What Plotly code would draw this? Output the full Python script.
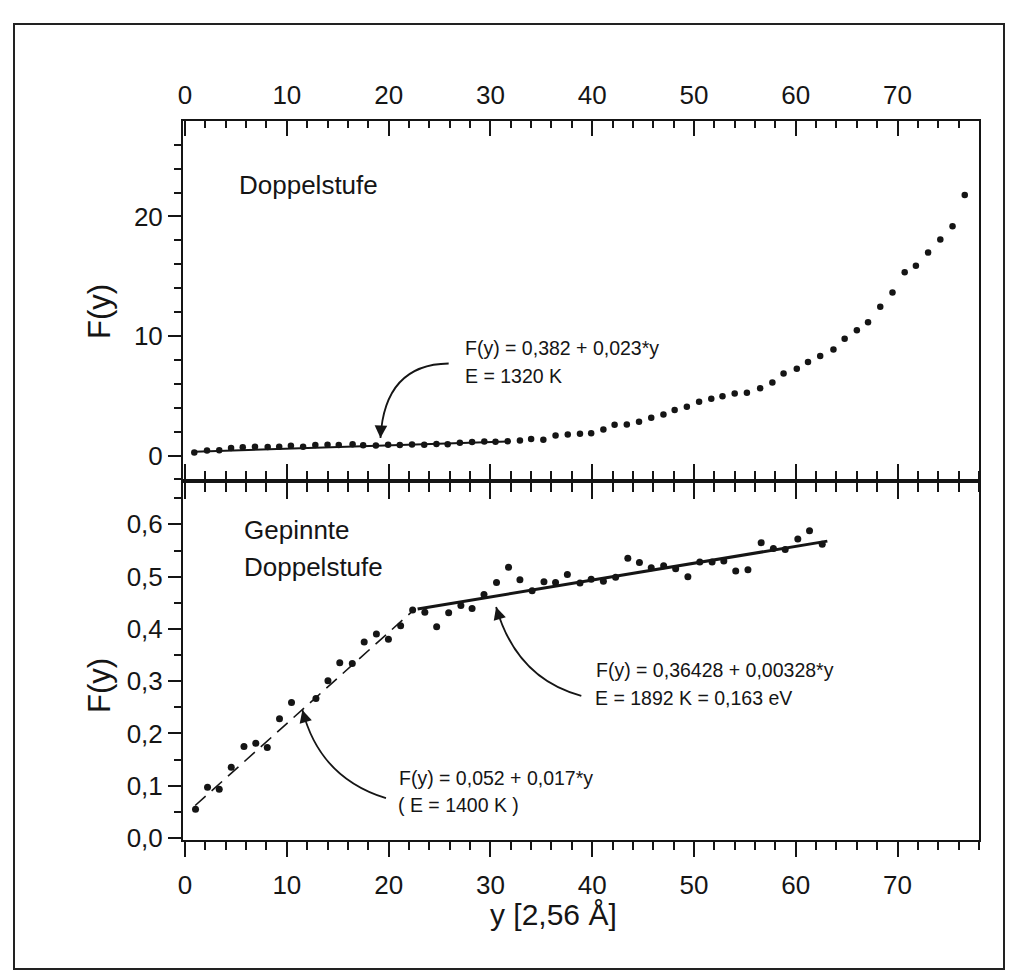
import plotly.graph_objects as go

# ---------------- data ----------------
# upper panel "Doppelstufe"
top_y = [0.91, 2.16, 3.36, 4.52, 5.67, 6.87, 8.12, 9.25, 10.4, 11.6,
         12.8, 14.0, 15.1, 16.46, 17.5, 18.75, 19.95, 21.1, 22.3, 23.5,
         24.7, 25.8, 27.0, 28.2, 29.4, 30.5, 31.7, 32.9, 34.0, 35.2, 36.4,
         37.6, 38.8, 39.9, 41.1, 42.2, 43.4, 44.6, 45.8, 47.0, 48.1,
         49.3, 50.5, 51.7, 52.8, 54.0, 55.2, 56.5, 57.7, 58.8, 60.1,
         61.2, 62.4, 63.7, 64.8, 66.0, 67.1, 68.3, 69.5, 70.7, 71.8,
         73.0, 74.2, 75.4, 76.6]
top_F = [0.25, 0.42, 0.45, 0.63, 0.70, 0.73, 0.71, 0.73, 0.82, 0.74,
         0.87, 0.91, 0.89, 0.95, 0.85, 0.84, 0.90, 0.89, 0.92, 0.90,
         0.96, 0.95, 1.07, 1.14, 1.18, 1.16, 1.20, 1.26, 1.39, 1.31, 1.68,
         1.75, 1.82, 1.86, 2.18, 2.58, 2.59, 2.82, 3.16, 3.43, 3.80,
         4.09, 4.49, 4.74, 4.95, 5.19, 5.25, 5.63, 6.11, 6.87, 7.27,
         7.82, 8.33, 8.87, 9.77, 10.48, 11.16, 12.45, 13.63, 15.34, 15.88,
         16.98, 18.08, 19.18, 21.8]
fit_top_y = [0.9, 31.7]
fit_top_F = [0.32, 1.17]

# lower panel "Gepinnte Doppelstufe"
bot_y = [1.03, 2.21, 3.36, 4.54, 5.79, 6.95, 8.08, 9.28, 10.46, 12.86,
         14.04, 15.2, 16.43, 17.6, 18.8, 19.98, 21.18, 22.36, 23.56, 24.72,
         25.9, 27.1, 28.2, 29.37, 30.6, 31.78, 32.9, 34.1, 35.26, 36.4,
         37.56, 38.8, 39.9, 41.1, 42.3, 43.5, 44.64, 45.8, 47.02, 48.2,
         49.4, 50.57, 51.78, 52.93, 54.1, 55.3, 56.6, 57.8, 58.96, 60.2,
         61.35, 62.6]
bot_F = [0.055, 0.097, 0.093, 0.135, 0.175, 0.181, 0.173, 0.228, 0.259, 0.267,
         0.301, 0.335, 0.334, 0.375, 0.39, 0.38, 0.406, 0.436, 0.432, 0.404,
         0.431, 0.445, 0.439, 0.466, 0.489, 0.518, 0.494, 0.473, 0.49, 0.489,
         0.504, 0.488, 0.495, 0.491, 0.499, 0.535, 0.527, 0.517, 0.521, 0.515,
         0.5, 0.528, 0.528, 0.53, 0.511, 0.513, 0.565, 0.554, 0.552, 0.572,
         0.588, 0.562]
fit_dash_y = [1.0, 22.4]
fit_dash_F = [0.062, 0.435]
fit_solid_y = [22.85, 63.1]
fit_solid_F = [0.438, 0.568]

# curved arrows: start, control, tip (data coordinates)
arrow_top = [(25.9, 7.7), (19.6, 7.63), (19.2, 1.46)]
arrow_b1 = [(38.93, 0.272), (32.57, 0.305), (30.56, 0.442)]
arrow_b2 = [(19.74, 0.076), (13.23, 0.115), (11.53, 0.245)]

x_ticks = [0, 10, 20, 30, 40, 50, 60, 70]

# ---------------- styling ----------------
FONT = "Liberation Sans, Arial, Helvetica, sans-serif"
INK = "#151515"
W, H = 1011, 980
L, R, T, B = 183, 979, 121, 840          # plot area in pixels
XR = [-0.2, 78.0]
YR_TOP = [-2.09, 27.99]
YR_BOT = [-0.004, 0.684]

fig = go.Figure()
fig.add_trace(go.Scatter(x=top_y, y=top_F, mode="markers", xaxis="x2", yaxis="y2",
                         marker=dict(size=6.5, color=INK), hoverinfo="skip"))
fig.add_trace(go.Scatter(x=fit_top_y, y=fit_top_F, mode="lines", xaxis="x2", yaxis="y2",
                         line=dict(color=INK, width=2), hoverinfo="skip"))
fig.add_trace(go.Scatter(x=bot_y, y=bot_F, mode="markers", xaxis="x", yaxis="y",
                         marker=dict(size=7, color=INK), hoverinfo="skip"))
fig.add_trace(go.Scatter(x=fit_dash_y, y=fit_dash_F, mode="lines", xaxis="x", yaxis="y",
                         line=dict(color=INK, width=1.6, dash="14px,8px"), hoverinfo="skip"))
fig.add_trace(go.Scatter(x=fit_solid_y, y=fit_solid_F, mode="lines", xaxis="x", yaxis="y",
                         line=dict(color=INK, width=3), hoverinfo="skip"))
fig.add_trace(go.Scatter(x=[None], y=[None], xaxis="x3", yaxis="y2", mode="markers",
                         showlegend=False, hoverinfo="skip"))

tickfont = dict(family=FONT, size=26, color=INK)


def xcommon():
    return dict(range=XR, tickvals=x_ticks, showgrid=False, zeroline=False,
                showline=True, linecolor=INK, linewidth=2, tickcolor=INK,
                tickwidth=2, tickfont=tickfont)


def minor(d, ln, where):
    return dict(dtick=d, tick0=0, ticks=where, ticklen=ln, tickwidth=2,
                tickcolor=INK, showgrid=False)


xa = xcommon()
xa.update(anchor="y", ticks="outside", ticklen=15, mirror="ticks",
          minor=minor(2, 8, "outside"), ticklabelstandoff=6)
xa2 = xcommon()
xa2.update(anchor="y2", ticks="outside", ticklen=16, showticklabels=False,
           minor=minor(2, 9, "outside"))
xa3 = xcommon()
xa3.update(anchor="y2", overlaying="x2", side="top", ticks="inside", ticklen=15,
           minor=minor(2, 7, "inside"), ticklabelstandoff=5)

ya = dict(domain=[0, 0.5], range=YR_BOT, tick0=0, dtick=0.1, tickformat=".1f",
          ticks="outside", ticklen=13, tickwidth=2, tickcolor=INK,
          minor=minor(0.05, 7, "outside"), showline=True, linecolor=INK,
          linewidth=2, mirror=True, showgrid=False, zeroline=False,
          tickfont=tickfont, anchor="x")
ya2 = dict(domain=[0.5, 1], range=YR_TOP, tick0=0, dtick=10,
           ticks="outside", ticklen=13, tickwidth=2, tickcolor=INK,
           minor=minor(2, 7, "outside"), showline=True, linecolor=INK,
           linewidth=2, mirror=True, showgrid=False, zeroline=False,
           tickfont=tickfont, anchor="x2")


def px2paper(X, Y):
    return (X - L) / (R - L), (B - Y) / (B - T)


shapes = []
annotations = []


def curved_arrow(pts, xref, yref, ax, ay):
    (x0, y0), (cx, cy), (x1, y1) = pts
    shapes.append(dict(type="path", xref=xref, yref=yref,
                       path=f"M {x0},{y0} Q {cx},{cy} {x1},{y1}",
                       line=dict(color=INK, width=1.8)))
    annotations.append(dict(x=x1, y=y1, xref=xref, yref=yref, text="",
                            showarrow=True, ax=ax, ay=ay, arrowhead=2,
                            arrowsize=1.4, arrowwidth=1.8, arrowcolor=INK,
                            standoff=0))


curved_arrow(arrow_top, "x2", "y2", 0.4, -11)
curved_arrow(arrow_b1, "x", "y", 3.5, 11.5)
curved_arrow(arrow_b2, "x", "y", 3.2, 11.6)


def text(x, y, s, size, xref="x", yref="y", **kw):
    d = dict(x=x, y=y, xref=xref, yref=yref, text=s, showarrow=False,
             xanchor="left", yanchor="middle",
             font=dict(family=FONT, size=size, color=INK))
    d.update(kw)
    annotations.append(d)


EQ = 19.5
text(5.1, 22.6, "Doppelstufe", 26, "x2", "y2")
text(27.3, 9.02, "F(y) = 0,382 + 0,023*y", EQ, "x2", "y2")
text(27.26, 6.68, "E = 1320 K", EQ, "x2", "y2")
text(5.6, 0.589, "Gepinnte", 26)
text(5.56, 0.518, "Doppelstufe", 26)
text(40.2, 0.321, "F(y) = 0,36428 + 0,00328*y", EQ)
text(40.1, 0.267, "E = 1892 K = 0,163 eV", EQ)
text(20.8, 0.114, "F(y) = 0,052 + 0,017*y", EQ)
text(20.77, 0.063, "( E = 1400 K )", EQ)

# axis titles
px, py = px2paper(99, 312)
text(px, py, "F(y)", 31, "paper", "paper", xanchor="center", textangle=-90)
px, py = px2paper(99, 686)
text(px, py, "F(y)", 31, "paper", "paper", xanchor="center", textangle=-90)
px, py = px2paper(553, 914)
text(px, py, "y [2,56 Å]", 30, "paper", "paper", xanchor="center")

# scanned page border
bx0, by0 = px2paper(14, 969)
bx1, by1 = px2paper(1004, 24)
shapes.append(dict(type="rect", xref="paper", yref="paper", x0=bx0, y0=by0,
                   x1=bx1, y1=by1, line=dict(color="#222", width=2),
                   layer="below"))

fig.update_layout(
    width=W, height=H,
    margin=dict(l=L, r=W - R, t=T, b=H - B),
    paper_bgcolor="white", plot_bgcolor="white",
    showlegend=False, separators=",.",
    font=dict(family=FONT, color=INK),
    xaxis=xa, xaxis2=xa2, xaxis3=xa3, yaxis=ya, yaxis2=ya2,
    shapes=shapes, annotations=annotations,
)

fig.write_html("out.html")
